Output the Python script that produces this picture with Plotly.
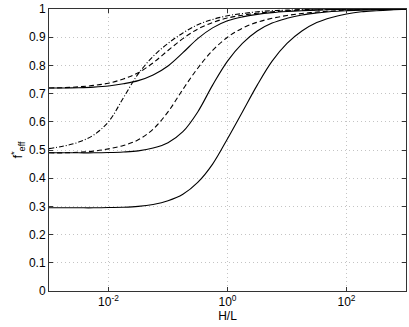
import plotly.graph_objects as go

# H/L values (quarter-decade steps from 1e-3 to 1e3)
h_over_l = [0.001, 0.00178, 0.00316, 0.00562, 0.01, 0.0178, 0.0316, 0.0562,
            0.1, 0.178, 0.316, 0.562, 1.0, 1.78, 3.16, 5.62, 10.0, 17.8,
            31.6, 56.2, 100.0, 178.0, 316.0, 562.0, 1000.0]

# f*_eff
solid_a = [0.720, 0.720, 0.721, 0.723, 0.727, 0.735, 0.746, 0.766, 0.798, 0.845,
           0.895, 0.933, 0.958, 0.972, 0.981, 0.987, 0.991, 0.994, 0.996, 0.998,
           0.999, 0.999, 1.0, 1.0, 1.0]
dashed_a = [0.720, 0.721, 0.724, 0.729, 0.737, 0.752, 0.774, 0.809, 0.853, 0.895,
            0.929, 0.952, 0.968, 0.978, 0.985, 0.990, 0.994, 0.996, 0.997, 0.998,
            0.999, 1.0, 1.0, 1.0, 1.0]
dashdot_b = [0.505, 0.514, 0.528, 0.553, 0.600, 0.685, 0.770, 0.832, 0.878, 0.915,
             0.944, 0.963, 0.976, 0.984, 0.990, 0.994, 0.996, 0.998, 0.999, 0.999,
             1.0, 1.0, 1.0, 1.0, 1.0]
dashed_b = [0.490, 0.490, 0.492, 0.496, 0.504, 0.516, 0.536, 0.574, 0.635, 0.715,
            0.790, 0.853, 0.900, 0.932, 0.953, 0.967, 0.977, 0.984, 0.989, 0.993,
            0.996, 0.998, 0.999, 1.0, 1.0]
solid_b = [0.490, 0.490, 0.490, 0.490, 0.491, 0.493, 0.497, 0.507, 0.526, 0.565,
           0.635, 0.730, 0.815, 0.878, 0.922, 0.950, 0.967, 0.979, 0.986, 0.991,
           0.994, 0.996, 0.998, 0.999, 1.0]
solid_c = [0.295, 0.295, 0.295, 0.295, 0.296, 0.297, 0.300, 0.307, 0.320, 0.343,
           0.385, 0.450, 0.540, 0.635, 0.730, 0.815, 0.878, 0.922, 0.952, 0.970,
           0.982, 0.990, 0.994, 0.997, 0.999]

x_ticks = [0.01, 1, 100]
x_tick_text = ["10<sup>-2</sup>", "10<sup>0</sup>", "10<sup>2</sup>"]
y_ticks = [0, 0.1, 0.2, 0.3, 0.4, 0.5, 0.6, 0.7, 0.8, 0.9, 1]
y_tick_text = ["0", "0.1", "0.2", "0.3", "0.4", "0.5", "0.6", "0.7", "0.8", "0.9", "1"]

fig = go.Figure()
curves = [
    (solid_c, "solid"), (solid_b, "solid"), (dashed_b, "5px,3px"),
    (dashdot_b, "5px,2px,1px,2px"), (solid_a, "solid"), (dashed_a, "5px,3px"),
]
for ys, dash in curves:
    fig.add_trace(go.Scatter(x=h_over_l, y=ys, mode="lines", line_shape="spline",
                             line=dict(color="black", width=1.1, dash=dash),
                             showlegend=False))

axis_style = dict(showline=True, linecolor="#333", linewidth=1, mirror="ticks",
                  ticks="inside", ticklen=4, tickcolor="#333", automargin=False,
                  showgrid=True, gridcolor="#c4c4c4", griddash="1px,3px", gridwidth=1,
                  zeroline=False, tickfont=dict(size=12, color="black"))

fig.update_xaxes(type="log", range=[-3, 3], tickvals=x_ticks, ticktext=x_tick_text,
                 title=dict(text="H/L", font=dict(size=12, color="black"), standoff=2),
                 **axis_style)
fig.update_yaxes(range=[0, 1], tickvals=y_ticks, ticktext=y_tick_text, **axis_style)

# y title as an annotation so it sits where the reference has it
fig.add_annotation(text="f<sup>*</sup><sub>eff</sub>", textangle=-90,
                   xref="paper", yref="paper", x=-0.088, y=0.5,
                   xanchor="center", yanchor="middle",
                   showarrow=False, font=dict(size=13, color="black"))

fig.update_layout(width=409, height=327, margin=dict(l=49, r=3, t=9, b=36),
                  paper_bgcolor="white", plot_bgcolor="white",
                  font=dict(family="Liberation Sans, Arial, sans-serif"))

# page has an 8px body margin by default; drop it so the figure fills the window
fig.write_html("out.html", config={"displayModeBar": False},
               post_script="document.body.style.margin='0';"
                           "Plotly.relayout('{plot_id}', {width: 409, height: 327});")
